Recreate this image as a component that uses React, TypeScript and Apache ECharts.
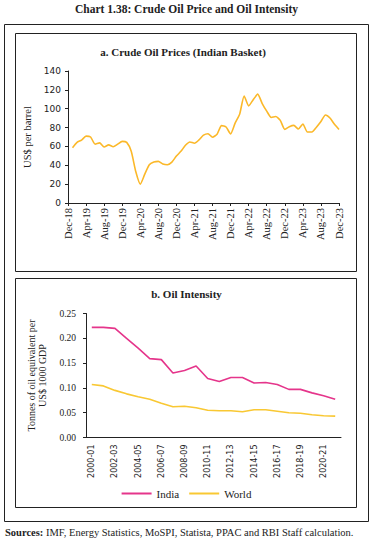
import React, { useEffect, useRef } from "react";
import * as echarts from "echarts";

const months: string[] = [
  "Dec-18",
  "Jan-19","Feb-19","Mar-19","Apr-19","May-19","Jun-19","Jul-19","Aug-19","Sep-19","Oct-19","Nov-19","Dec-19",
  "Jan-20","Feb-20","Mar-20","Apr-20","May-20","Jun-20","Jul-20","Aug-20","Sep-20","Oct-20","Nov-20","Dec-20",
  "Jan-21","Feb-21","Mar-21","Apr-21","May-21","Jun-21","Jul-21","Aug-21","Sep-21","Oct-21","Nov-21","Dec-21",
  "Jan-22","Feb-22","Mar-22","Apr-22","May-22","Jun-22","Jul-22","Aug-22","Sep-22","Oct-22","Nov-22","Dec-22",
  "Jan-23","Feb-23","Mar-23","Apr-23","May-23","Jun-23","Jul-23","Aug-23","Sep-23","Oct-23","Nov-23","Dec-23",
];

const crudePrice: (number | null)[] = [
  null,
  58.6, 64.3, 66.7, 70.9, 70.0, 62.4, 63.8, 59.4, 61.7, 59.6, 62.4, 65.4,
  64.3, 54.8, 33.4, 20.0, 30.6, 40.6, 43.4, 44.2, 41.4, 40.6, 43.4, 49.8,
  54.8, 61.2, 64.7, 63.4, 66.9, 71.9, 73.5, 69.8, 72.9, 82.1, 80.6, 73.3,
  84.7, 94.1, 113.5, 103.0, 109.5, 115.5, 105.5, 97.4, 90.7, 91.7, 87.6, 78.1,
  80.9, 82.3, 78.5, 83.8, 75.3, 75.3, 80.4, 86.4, 93.3, 90.1, 83.5, 78.0,
];

const fiscalYears: string[] = [
  "2000-01","2001-02","2002-03","2003-04","2004-05","2005-06","2006-07","2007-08",
  "2008-09","2009-10","2010-11","2011-12","2012-13","2013-14","2014-15","2015-16",
  "2016-17","2017-18","2018-19","2019-20","2020-21","2021-22",
];

const indiaIntensity: number[] = [
  0.222, 0.222, 0.220, 0.200, 0.180, 0.159, 0.157, 0.130, 0.135, 0.144, 0.119,
  0.113, 0.121, 0.121, 0.110, 0.111, 0.107, 0.097, 0.097, 0.090, 0.084, 0.077,
];

const worldIntensity: number[] = [
  0.107, 0.104, 0.095, 0.088, 0.082, 0.077, 0.069, 0.062, 0.063, 0.060, 0.055,
  0.054, 0.054, 0.052, 0.056, 0.056, 0.053, 0.050, 0.049, 0.046, 0.044, 0.043,
];

const SERIF = "Liberation Serif";
const SANS = "DejaVu Sans";

export default function App() {
  const ref = useRef<HTMLDivElement>(null);
  useEffect(() => {
    if (!ref.current) return;
    const chart = echarts.init(ref.current, undefined, { renderer: "svg" });
    const axisLineStyle = { color: "#222", width: 1 };
    chart.setOption({
      animation: false,
      backgroundColor: "#fff",
      textStyle: { fontFamily: SERIF, color: "#222" },
      graphic: [
        { type: "rect", shape: { x: 4.5, y: 24.5, width: 364, height: 497 }, style: { fill: "none", stroke: "#222", lineWidth: 1 } },
        { type: "rect", shape: { x: 15.5, y: 33.5, width: 341, height: 238 }, style: { fill: "none", stroke: "#222", lineWidth: 1 } },
        { type: "rect", shape: { x: 15.5, y: 278.5, width: 341, height: 229 }, style: { fill: "none", stroke: "#222", lineWidth: 1 } },
        { type: "text", x: 186.5, y: 9, style: { text: "Chart 1.38: Crude Oil Price and Oil Intensity", font: `bold 11.5px ${SERIF}`, fill: "#222", textAlign: "center", textVerticalAlign: "middle" } },
        { type: "text", x: 183, y: 52, style: { text: "a. Crude Oil Prices (Indian Basket)", font: `bold 11px ${SERIF}`, fill: "#222", textAlign: "center", textVerticalAlign: "middle" } },
        { type: "text", x: 186.5, y: 294, style: { text: "b. Oil Intensity", font: `bold 11px ${SERIF}`, fill: "#222", textAlign: "center", textVerticalAlign: "middle" } },
        {
          type: "text", x: 5, y: 532,
          style: {
            text: "{b|Sources:} IMF, Energy Statistics, MoSPI, Statista, PPAC and RBI Staff calculation.",
            font: `10.5px ${SERIF}`, fill: "#222", textAlign: "left", textVerticalAlign: "middle",
            rich: { b: { fontWeight: "bold", fontFamily: SERIF, fontSize: 10.5, fill: "#222" } },
          },
        },
      ],
      legend: {
        data: ["India", "World"],
        left: "center",
        top: 483,
        itemWidth: 30,
        itemHeight: 2,
        itemGap: 10,
        icon: "rect",
        textStyle: { fontFamily: SERIF, fontSize: 11, color: "#222" },
      },
      grid: [
        { left: 68, top: 71, width: 271, height: 132, containLabel: false },
        { left: 86, top: 313.5, width: 255, height: 124, containLabel: false },
      ],
      xAxis: [
        {
          type: "category", gridIndex: 0, data: months, boundaryGap: false,
          axisLine: { lineStyle: axisLineStyle },
          axisTick: { interval: 3, length: 3, lineStyle: axisLineStyle },
          axisLabel: { interval: 3, rotate: 90, fontFamily: SERIF, fontSize: 10.5, color: "#222", margin: 5 },
          splitLine: { show: false },
        },
        {
          type: "category", gridIndex: 1, data: fiscalYears, boundaryGap: true,
          axisLine: { lineStyle: axisLineStyle },
          axisTick: { interval: 0, length: 3, lineStyle: axisLineStyle },
          axisLabel: { interval: 1, rotate: 90, fontFamily: SANS, fontSize: 8, color: "#222", margin: 7 },
          splitLine: { show: false },
        },
      ],
      yAxis: [
        {
          type: "value", gridIndex: 0, min: 0, max: 140, interval: 20,
          name: "US$ per barrel", nameLocation: "middle", nameGap: 24, nameRotate: 90,
          nameTextStyle: { fontFamily: SERIF, fontSize: 10.5, color: "#222" },
          axisLine: { show: true, lineStyle: axisLineStyle },
          axisTick: { show: true, length: 3, lineStyle: axisLineStyle },
          axisLabel: { fontFamily: SANS, fontSize: 9, color: "#222", margin: 7 },
          splitLine: { show: false },
        },
        {
          type: "value", gridIndex: 1, min: 0, max: 0.25, interval: 0.05,
          name: "Tonnes of oil equivalent per\nUS$ 1000 GDP", nameLocation: "middle", nameGap: 36, nameRotate: 90,
          nameTextStyle: { fontFamily: SERIF, fontSize: 10, color: "#222", lineHeight: 11 },
          axisLine: { show: true, lineStyle: axisLineStyle },
          axisTick: { show: true, length: 3, lineStyle: axisLineStyle },
          axisLabel: { fontFamily: SERIF, fontSize: 9.5, color: "#222", margin: 10, formatter: (v: number) => v.toFixed(2) },
          splitLine: { show: false },
        },
      ],
      series: [
        {
          name: "Crude", type: "line", xAxisIndex: 0, yAxisIndex: 0, data: crudePrice,
          showSymbol: false, symbol: "none", smooth: 0.2,
          lineStyle: { color: "#FBB829", width: 1.6 }, itemStyle: { color: "#FBB829" },
        },
        {
          name: "India", type: "line", xAxisIndex: 1, yAxisIndex: 1, data: indiaIntensity,
          showSymbol: false, symbol: "none",
          lineStyle: { color: "#E5358B", width: 1.6 }, itemStyle: { color: "#E5358B" },
        },
        {
          name: "World", type: "line", xAxisIndex: 1, yAxisIndex: 1, data: worldIntensity,
          showSymbol: false, symbol: "none",
          lineStyle: { color: "#F9C833", width: 1.6 }, itemStyle: { color: "#F9C833" },
        },
      ],
    });
    return () => chart.dispose();
  }, []);
  return <div ref={ref} style={{ position: "absolute", left: 0, top: 0, width: 373, height: 545 }} />;
}
